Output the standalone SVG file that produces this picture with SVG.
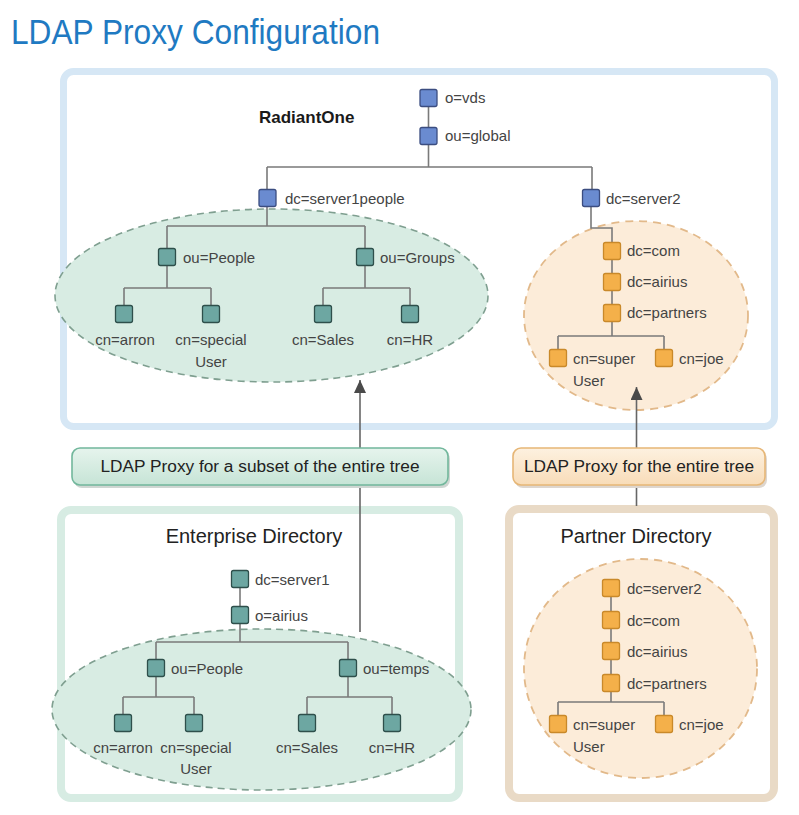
<svg xmlns="http://www.w3.org/2000/svg" width="799" height="815" viewBox="0 0 799 815">
<defs>
<style>
.t{font-family:"Liberation Sans",Arial,sans-serif;font-size:15px;fill:#444}
.tc{font-family:"Liberation Sans",Arial,sans-serif;font-size:15px;fill:#444;text-anchor:middle}
.h{font-family:"Liberation Sans",Arial,sans-serif;font-size:20px;fill:#222;text-anchor:middle}
.lbl{font-family:"Liberation Sans",Arial,sans-serif;font-size:16px;fill:#222;text-anchor:middle}
.b{fill:#6a8bd0;stroke:#3b4d80;stroke-width:1.3}
.g{fill:#6da7a2;stroke:#2e4f4b;stroke-width:1.3}
.o{fill:#f4b04a;stroke:#c9892a;stroke-width:1.3}
.ln{fill:none;stroke:#7a7a7a;stroke-width:1.6}
.ar{fill:none;stroke:#666;stroke-width:1.6}
</style>
<linearGradient id="gg" x1="0" y1="0" x2="0" y2="1"><stop offset="0" stop-color="#e6f4ed"/><stop offset="1" stop-color="#c6e4d6"/></linearGradient>
<linearGradient id="og" x1="0" y1="0" x2="0" y2="1"><stop offset="0" stop-color="#fdf1e0"/><stop offset="1" stop-color="#f8dcb8"/></linearGradient>
<marker id="ah" viewBox="0 0 13 12" refX="13" refY="6" markerWidth="13" markerHeight="12" markerUnits="userSpaceOnUse" orient="auto"><path d="M0,0 L13,6 L0,12 z" fill="#4a4a4a"/></marker>
</defs>
<rect width="799" height="815" fill="#fff"/>
<text x="11" y="44" font-family="'Liberation Sans',Arial,sans-serif" font-size="35" fill="#1f7ac2" textLength="369" lengthAdjust="spacingAndGlyphs">LDAP Proxy Configuration</text>

<!-- containers -->
<g id="radiantone">
<rect x="63.5" y="71.5" width="711" height="355" rx="10" fill="#fff" stroke="#d6e7f5" stroke-width="7"/>
<text x="259" y="123" font-family="'Liberation Sans',Arial,sans-serif" font-size="17" font-weight="bold" fill="#1a1a1a">RadiantOne</text>
<ellipse cx="271.5" cy="295.5" rx="216.5" ry="86.5" fill="#d8ece3" stroke="#7f9f90" stroke-width="1.6" stroke-dasharray="7,5"/>
<ellipse cx="636" cy="315.5" rx="112" ry="94.5" fill="#fcecd9" stroke="#e2b98a" stroke-width="1.8" stroke-dasharray="8,6"/>
</g>
<g id="enterprise">
<rect x="61" y="510" width="398" height="288" rx="10" fill="#fff" stroke="#d7ece3" stroke-width="8"/>
<text class="h" x="254" y="543">Enterprise Directory</text>
<ellipse cx="261.5" cy="709.5" rx="209.5" ry="80.5" fill="#d8ece3" stroke="#7f9f90" stroke-width="1.6" stroke-dasharray="7,5"/>
</g>
<g id="partner">
<rect x="509" y="509" width="265" height="289" rx="10" fill="#fff" stroke="#e9dac6" stroke-width="8"/>
<text class="h" x="636" y="543">Partner Directory</text>
<ellipse cx="640.5" cy="668.5" rx="116.5" ry="109.5" fill="#fcecd9" stroke="#e2b98a" stroke-width="1.8" stroke-dasharray="8,6"/>
</g>

<!-- connectors -->
<g id="connectors">
<!-- RadiantOne tree -->
<path class="ln" d="M428.5,98 V136 M428.5,136 V167 M267,167 H592 M267,167 V198 M592,167 V198"/>
<path class="ln" d="M267,198 V226 M167,226 H365 M167,226 V257 M365,226 V257"/>
<path class="ln" d="M167,257 V288 M124,288 H211 M124,288 V314 M211,288 V314"/>
<path class="ln" d="M365,257 V288 M323,288 H410 M323,288 V314 M410,288 V314"/>
<path class="ln" d="M591,198 V228 H612 V251 V282 V313 V336 M558,336 H664 M558,336 V358 M664,336 V358"/>
<!-- Enterprise tree -->
<path class="ln" d="M240,579 V615 V642 M156,642 H348 M156,642 V668 M348,642 V668"/>
<path class="ln" d="M156,668 V697 M123,697 H194 M123,697 V723 M194,697 V723"/>
<path class="ln" d="M348,668 V697 M307,697 H392 M307,697 V723 M392,697 V723"/>
<!-- Partner tree -->
<path class="ln" d="M611,588 V620 V651 V683 V702 M558,702 H664 M558,702 V724 M664,702 V724"/>
<!-- proxy arrows -->
<path class="ar" d="M360,632 V380" marker-end="url(#ah)"/>
<path class="ar" d="M636.5,506 V387" marker-end="url(#ah)"/>
</g>

<!-- proxy labels -->
<g id="label-subset">
<rect x="74" y="451" width="376" height="37" rx="8" fill="#cfd6d2"/>
<rect x="72" y="448" width="376" height="37" rx="8" fill="url(#gg)" stroke="#72b79c" stroke-width="1.6"/>
<text class="lbl" x="260" y="472" textLength="319" lengthAdjust="spacingAndGlyphs">LDAP Proxy for a subset of the entire tree</text>
</g>
<g id="label-entire">
<rect x="515" y="451" width="252" height="37" rx="8" fill="#ddd6cf"/>
<rect x="513" y="448" width="252" height="37" rx="8" fill="url(#og)" stroke="#e6b676" stroke-width="1.6"/>
<text class="lbl" x="639" y="472" textLength="230" lengthAdjust="spacingAndGlyphs">LDAP Proxy for the entire tree</text>
</g>

<!-- RadiantOne nodes -->
<g id="r-o-vds"><rect class="b" x="420" y="89.5" width="17" height="17" rx="2"/><text class="t" x="445" y="103">o=vds</text></g>
<g id="r-ou-global"><rect class="b" x="420" y="127.5" width="17" height="17" rx="2"/><text class="t" x="445" y="141">ou=global</text></g>
<g id="r-dc-server1people"><rect class="b" x="259" y="189.5" width="17" height="17" rx="2"/><text class="t" x="285" y="204">dc=server1people</text></g>
<g id="r-dc-server2"><rect class="b" x="582.5" y="189.5" width="17" height="17" rx="2"/><text class="t" x="606" y="204">dc=server2</text></g>
<g id="r-ou-people"><rect class="g" x="158.5" y="248.5" width="17" height="17" rx="2"/><text class="t" x="183" y="263">ou=People</text></g>
<g id="r-ou-groups"><rect class="g" x="356.5" y="248.5" width="17" height="17" rx="2"/><text class="t" x="380" y="263">ou=Groups</text></g>
<g id="r-cn-arron"><rect class="g" x="115.5" y="305.5" width="17" height="17" rx="2"/><text class="tc" x="125" y="345">cn=arron</text></g>
<g id="r-cn-special"><rect class="g" x="202.5" y="305.5" width="17" height="17" rx="2"/><text class="tc" x="211" y="345">cn=special</text><text class="tc" x="211" y="367">User</text></g>
<g id="r-cn-sales"><rect class="g" x="314.5" y="305.5" width="17" height="17" rx="2"/><text class="tc" x="323" y="345">cn=Sales</text></g>
<g id="r-cn-hr"><rect class="g" x="401.5" y="305.5" width="17" height="17" rx="2"/><text class="tc" x="410" y="345">cn=HR</text></g>
<g id="r-dc-com"><rect class="o" x="603.5" y="242.5" width="17" height="17" rx="2"/><text class="t" x="627" y="256">dc=com</text></g>
<g id="r-dc-airius"><rect class="o" x="603.5" y="273.5" width="17" height="17" rx="2"/><text class="t" x="627" y="287">dc=airius</text></g>
<g id="r-dc-partners"><rect class="o" x="603.5" y="304.5" width="17" height="17" rx="2"/><text class="t" x="627" y="318">dc=partners</text></g>
<g id="r-cn-super"><rect class="o" x="549.5" y="349.5" width="17" height="17" rx="2"/><text class="t" x="573" y="364">cn=super</text><text class="t" x="573" y="386">User</text></g>
<g id="r-cn-joe"><rect class="o" x="655.5" y="349.5" width="17" height="17" rx="2"/><text class="t" x="679" y="364">cn=joe</text></g>

<!-- Enterprise nodes -->
<g id="e-dc-server1"><rect class="g" x="231.5" y="570.5" width="17" height="17" rx="2"/><text class="t" x="255" y="585">dc=server1</text></g>
<g id="e-o-airius"><rect class="g" x="231.5" y="606.5" width="17" height="17" rx="2"/><text class="t" x="255" y="621">o=airius</text></g>
<g id="e-ou-people"><rect class="g" x="147.5" y="659.5" width="17" height="17" rx="2"/><text class="t" x="171" y="674">ou=People</text></g>
<g id="e-ou-temps"><rect class="g" x="339.5" y="659.5" width="17" height="17" rx="2"/><text class="t" x="363" y="674">ou=temps</text></g>
<g id="e-cn-arron"><rect class="g" x="114.5" y="714.5" width="17" height="17" rx="2"/><text class="tc" x="123" y="753">cn=arron</text></g>
<g id="e-cn-special"><rect class="g" x="185.5" y="714.5" width="17" height="17" rx="2"/><text class="tc" x="196" y="753">cn=special</text><text class="tc" x="196" y="774">User</text></g>
<g id="e-cn-sales"><rect class="g" x="298.5" y="714.5" width="17" height="17" rx="2"/><text class="tc" x="307" y="753">cn=Sales</text></g>
<g id="e-cn-hr"><rect class="g" x="383.5" y="714.5" width="17" height="17" rx="2"/><text class="tc" x="392" y="753">cn=HR</text></g>

<!-- Partner nodes -->
<g id="p-dc-server2"><rect class="o" x="602.5" y="579.5" width="17" height="17" rx="2"/><text class="t" x="627" y="594">dc=server2</text></g>
<g id="p-dc-com"><rect class="o" x="602.5" y="611.5" width="17" height="17" rx="2"/><text class="t" x="627" y="626">dc=com</text></g>
<g id="p-dc-airius"><rect class="o" x="602.5" y="642.5" width="17" height="17" rx="2"/><text class="t" x="627" y="657">dc=airius</text></g>
<g id="p-dc-partners"><rect class="o" x="602.5" y="674.5" width="17" height="17" rx="2"/><text class="t" x="627" y="689">dc=partners</text></g>
<g id="p-cn-super"><rect class="o" x="549.5" y="715.5" width="17" height="17" rx="2"/><text class="t" x="573" y="730">cn=super</text><text class="t" x="573" y="752">User</text></g>
<g id="p-cn-joe"><rect class="o" x="655.5" y="715.5" width="17" height="17" rx="2"/><text class="t" x="679" y="730">cn=joe</text></g>
</svg>
